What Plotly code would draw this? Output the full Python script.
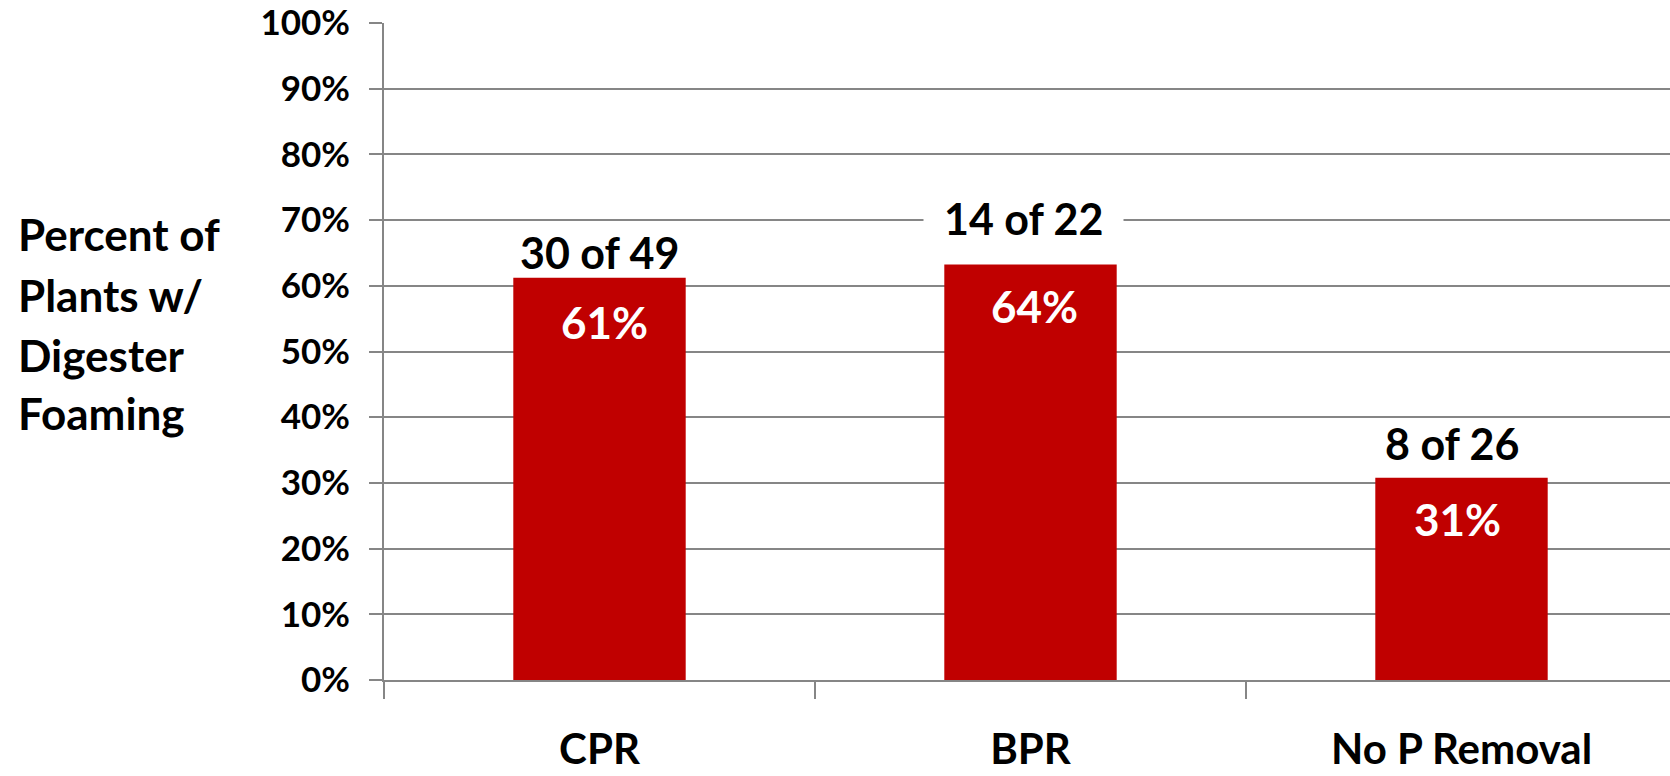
import plotly.graph_objects as go

categories = ["CPR", "BPR", "No P Removal"]
foaming_plants = [30, 14, 8]
total_plants = [49, 22, 26]
percent_values = [f / t for f, t in zip(foaming_plants, total_plants)]
count_labels = [f"{f} of {t}" for f, t in zip(foaming_plants, total_plants)]
pct_labels = [f"{round(v * 100)}%" for v in percent_values]
ytitle_lines = ["Percent of", "Plants w/", "Digester", "Foaming"]

# layout constants (pixel offsets for labels)
count_shift = [25, 43, 34]
count_xshift = [0, -7, -10]
count_bg = [None, "white", None]
pct_shift = [-44, -44, -41]
pct_xshift = [5, 4, -4]

FONT = "Lato"
GRID = "#868686"
BAR = "#C00000"

W, H = 1670, 776
L, T, B = 384, 23, 96
plot_h = H - T - B

fig = go.Figure()
fig.add_trace(go.Bar(
    x=categories, y=percent_values, marker=dict(color=BAR, line=dict(width=0)),
    width=0.4, hoverinfo="skip",
))

annotations = []
for c, v, lab, s, xs, bg in zip(categories, percent_values, count_labels, count_shift, count_xshift, count_bg):
    a = dict(x=c, y=v, xref="x", yref="y", text=lab, showarrow=False,
             yanchor="middle", yshift=s, xshift=xs,
             font=dict(family=FONT, size=43, color="black", weight="bold"))
    if bg:
        a.update(bgcolor=bg, borderpad=20)
    annotations.append(a)
for c, v, lab, s, xs in zip(categories, percent_values, pct_labels, pct_shift, pct_xshift):
    annotations.append(dict(x=c, y=v, xref="x", yref="y", text=lab, showarrow=False,
                            yanchor="middle", yshift=s, xshift=xs,
                            font=dict(family=FONT, size=44, color="white", weight="bold")))

line_centers_px = [234, 295, 355, 413]
for txt, ypx in zip(ytitle_lines, line_centers_px):
    annotations.append(dict(x=0, y=(H - B - ypx) / plot_h, xref="paper", yref="paper",
                            xanchor="left", yanchor="middle", xshift=-(L - 16),
                            text=txt, showarrow=False,
                            font=dict(family=FONT, size=44, color="black", weight="bold")))

cat_px = 431
plot_w = W - L
fig.update_layout(
    width=W, height=H,
    margin=dict(l=L, r=0, t=T, b=B, pad=0, autoexpand=False),
    paper_bgcolor="white", plot_bgcolor="white",
    showlegend=False,
    bargap=0.6,
    annotations=annotations,
    xaxis=dict(
        range=[-0.5, -0.5 + plot_w / cat_px],
        automargin=False,
        showline=True, linecolor=GRID, linewidth=2,
        ticks="outside", tickson="boundaries", ticklen=17, tickcolor=GRID, tickwidth=2,
        showgrid=False, zeroline=False,
        tickfont=dict(family=FONT, size=42, color="black", weight="bold"),
        ticklabelstandoff=32,
    ),
    yaxis=dict(
        range=[0, 1], dtick=0.1, tickformat=".0%",
        automargin=False,
        showline=True, linecolor=GRID, linewidth=2,
        ticks="outside", ticklen=13, tickcolor=GRID, tickwidth=2,
        showgrid=True, gridcolor=GRID, gridwidth=2, zeroline=False,
        tickfont=dict(family=FONT, size=35, color="black", weight="bold"),
        ticklabelstandoff=12,
    ),
)

fig.write_html(
    "out.html",
    config={"displayModeBar": False},
    post_script="document.body.style.margin='0';document.body.style.overflow='hidden';",
)
